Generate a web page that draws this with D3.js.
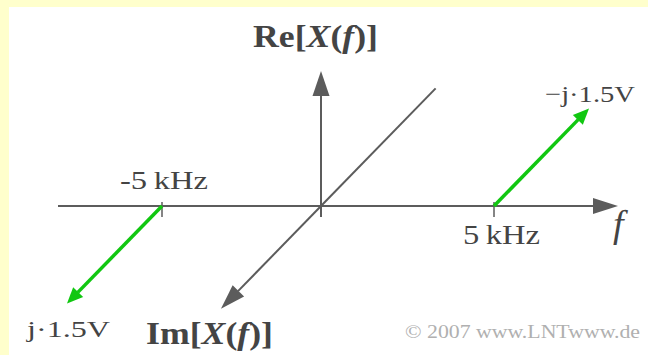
<!DOCTYPE html>
<html>
<head>
<meta charset="utf-8">
<script src="https://cdn.jsdelivr.net/npm/d3@7"></script>
<style>
  html, body { margin: 0; padding: 0; background: #ffffcc; }
  svg { display: block; }
</style>
</head>
<body>
<svg id="chart" width="648" height="355"></svg>
<script>
// ---- data ----
const freqs = [-5, 5];                 // kHz, spectral line positions
const imValues = [1.5, -1.5];          // Im[X(f)] in V at each line
const componentLabels = ["j\u00b71.5V", "\u2212j\u00b71.5V"];
const freqTickValues = [-5, 5];
const freqTickLabels = ["-5\u2009kHz", "5\u2009kHz"];
const imAxisExtent = [-1.81, 1.58];    // Im axis (depth) drawn range

// ---- layout ----
const W = 648, H = 355;
const svg = d3.select("#chart");
const axisColor = "#5c5c5c";
const textColor = "#444";
const green = "#11c711";

svg.append("rect").attr("x", 0).attr("y", 0).attr("width", W).attr("height", H).attr("fill", "#ffffcc");
svg.append("rect").attr("x", 9).attr("y", 7).attr("width", W - 9).attr("height", H - 7).attr("fill", "#ffffff");

// frequency scale (perspective drawing: slightly stretched on the right)
const x = d3.scaleLinear().domain([-5, 0, 5]).range([162, 321, 494]);
const y0 = 206;                         // f-axis baseline (Re = 0)
// Im axis projected diagonally (positive Im toward lower-left)
const imDx = d3.scaleLinear().domain([0, 1.5]).range([0, -95]);
const imDy = d3.scaleLinear().domain([0, 1.5]).range([0, 97.5]);

function arrow(g, x1, y1, x2, y2, color, width, headLen, headW) {
  const ang = Math.atan2(y2 - y1, x2 - x1);
  const bx = x2 - headLen * Math.cos(ang), by = y2 - headLen * Math.sin(ang);
  g.append("line").attr("x1", x1).attr("y1", y1).attr("x2", bx + 0.5 * Math.cos(ang)).attr("y2", by + 0.5 * Math.sin(ang))
    .attr("stroke", color).attr("stroke-width", width);
  const px = -Math.sin(ang) * headW / 2, py = Math.cos(ang) * headW / 2;
  g.append("polygon")
    .attr("points", [[x2, y2], [bx + px, by + py], [bx - px, by - py]].map(p => p.join(",")).join(" "))
    .attr("fill", color);
}

const g = svg.append("g");

// f axis
arrow(g, 58, y0, 618, y0, axisColor, 2, 25, 16);
// Re axis
arrow(g, x(0), 217, x(0), 71, axisColor, 2, 25, 17);
// Im axis (diagonal)
g.append("line")
  .attr("x1", x(0) + imDx(imAxisExtent[0])).attr("y1", y0 + imDy(imAxisExtent[0]))
  .attr("x2", x(0)).attr("y2", y0)
  .attr("stroke", axisColor).attr("stroke-width", 2);
arrow(g, x(0), y0, x(0) + imDx(imAxisExtent[1]), y0 + imDy(imAxisExtent[1]), axisColor, 2, 25, 16);

// ticks
freqTickValues.forEach(v => {
  g.append("line").attr("x1", x(v)).attr("x2", x(v)).attr("y1", 202).attr("y2", 217)
    .attr("stroke", axisColor).attr("stroke-width", 1.5);
});

// spectral lines (green arrows)
freqs.forEach((f, i) => {
  arrow(g, x(f), y0, x(f) + imDx(imValues[i]), y0 + imDy(imValues[i]), green, 3.5, 16, 14);
});

// ---- text ----
const serif = "Liberation Serif, Times New Roman, serif";
function txt(str, tx, ty, size, len, opts = {}) {
  const t = svg.append("text").attr("x", tx).attr("y", ty)
    .style("font-family", serif).attr("font-size", size)
    .attr("fill", opts.fill || textColor)
    .attr("font-weight", opts.bold ? "bold" : "normal")
    .attr("font-style", opts.italic ? "italic" : "normal");
  if (str !== null) t.text(str);
  if (len) t.attr("textLength", len).attr("lengthAdjust", "spacingAndGlyphs");
  return t;
}
function axisLabel(prefix, tx, ty, len) {
  const t = txt(null, tx, ty, 31, len, { bold: true });
  t.append("tspan").text(prefix + "[");
  t.append("tspan").attr("font-style", "italic").text("X");
  t.append("tspan").text("(");
  t.append("tspan").attr("font-style", "italic").text("f");
  t.append("tspan").text(")]");
}
axisLabel("Re", 253, 47, 125);
axisLabel("Im", 146, 344, 127);

txt(freqTickLabels[0], 120, 189, 26, 88);
txt(freqTickLabels[1], 463, 244, 28, 77);
txt("f", 613, 237, 38, null, { italic: true });

txt(componentLabels[1], 545, 102, 24, 90);
txt(componentLabels[0], 27, 337, 24, 83);

txt("\u00a9 2007 www.LNTwww.de", 405, 338, 18, 235, { fill: "#b0b0b0" });
</script>
</body>
</html>
